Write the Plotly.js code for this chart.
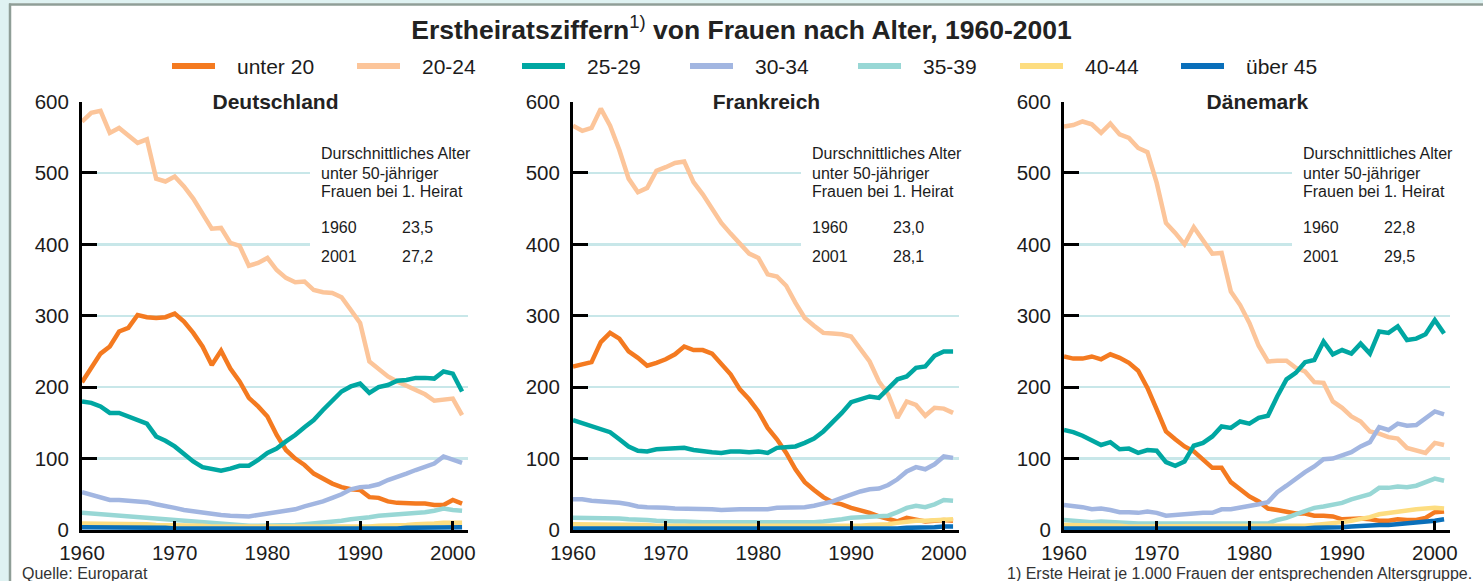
<!DOCTYPE html>
<html>
<head>
<meta charset="utf-8">
<script src="https://cdn.plot.ly/plotly-3.0.1.min.js"></script>
<style>
  html, body { margin: 0; padding: 0; background: #ffffff; }
  #chart { width: 1483px; height: 581px; }
</style>
</head>
<body>
<div id="chart"></div>
<script>
// ---------- DATA ----------
const years = [1960,1961,1962,1963,1964,1965,1966,1967,1968,1969,
               1970,1971,1972,1973,1974,1975,1976,1977,1978,1979,
               1980,1981,1982,1983,1984,1985,1986,1987,1988,1989,
               1990,1991,1992,1993,1994,1995,1996,1997,1998,1999,
               2000,2001];

const ageGroups = ["unter 20", "20-24", "25-29", "30-34", "35-39", "40-44", "über 45"];
const countries = ["Deutschland", "Frankreich", "Dänemark"];

// Deutschland
const de_u20  = [207,228,247,257,278,283,301,298,297,298,303,292,276,257,231,251,226,208,185,173,159,133,112,100,91,79,72,65,60,57,56,46,45,40,38,37,37,37,35,35,42,37];
const de_2024 = [572,584,587,556,563,552,542,547,492,488,495,481,464,443,422,423,402,398,370,374,381,364,353,347,348,336,333,332,326,308,290,236,226,215,208,202,196,190,181,182,184,161];
const de_2529 = [180,178,173,164,164,159,154,149,131,125,117,106,96,88,85,83,86,90,90,98,108,114,124,133,144,154,168,181,194,201,205,192,200,203,209,210,213,213,212,222,219,194];
const de_3034 = [53,49,46,42,42,41,40,39,36,34,31,28,26,24,22,21,20,20,19,21,23,25,27,29,33,36,40,45,50,57,60,61,64,70,74,79,84,89,93,103,98,94];
const de_3539 = [24,23,21,20,19,18,18,17,15,15,14,13,12,10,9,8,7,7,6,6,6,6,7,7,8,9,10,11,13,15,16,18,20,21,21,22,24,25,27,30,28,27];
const de_4044 = [9,9,9,8,8,8,8,8,7,7,7,6,6,6,5,5,5,4,4,4,4,4,4,4,4,4,4,4,5,5,5,5,6,6,7,7,8,8,9,10,10,10];
const de_45   = [4,4,4,4,3,3,3,3,3,3,2,2,2,2,2,2,1,1,1,1,1,1,1,1,1,1,1,1,1,2,2,2,2,2,2,3,3,3,3,4,4,4];

// Frankreich
const fr_u20  = [229,232,235,263,276,268,250,241,230,234,239,246,257,252,252,247,232,218,197,183,166,143,127,108,85,67,56,46,39,36,31,28,24,19,16,12,17,15,12,13,14,13];
const fr_2024 = [566,559,563,590,566,532,492,473,479,503,508,514,516,487,470,449,430,415,401,387,381,358,355,342,318,297,286,276,275,274,271,254,236,208,190,157,180,175,160,171,170,164];
const fr_2529 = [154,150,146,142,137,127,117,111,110,113,114,115,115,112,110,109,108,110,110,109,110,108,115,116,117,122,128,138,150,164,179,183,187,185,197,211,215,227,229,244,250,250];
const fr_3034 = [43,43,41,40,40,38,36,33,32,32,31,30,30,29,29,29,28,29,29,29,29,29,31,31,31,32,34,37,40,45,50,54,57,58,63,71,82,88,85,92,103,101];
const fr_3539 = [17,17,16,16,16,16,15,15,14,13,12,12,12,11,11,11,11,11,10,10,10,10,10,10,10,10,11,12,13,15,17,18,18,19,20,25,31,34,32,36,42,41];
const fr_4044 = [8,8,8,8,7,7,7,7,7,6,6,6,6,6,6,5,5,5,5,5,5,5,5,5,5,5,5,5,6,6,6,6,7,7,8,10,12,13,13,14,15,15];
const fr_45   = [2,2,2,2,2,2,2,2,2,2,2,1,1,1,1,1,1,1,1,1,1,1,1,1,1,1,1,1,1,1,1,1,1,2,2,2,3,3,3,4,5,5];

// Dänemark
const dk_u20  = [243,240,240,243,239,246,241,234,223,199,169,138,127,117,110,99,87,87,67,57,47,40,30,28,25,23,23,20,20,19,15,16,16,15,13,13,15,14,14,17,25,26];
const dk_2024 = [565,567,572,568,556,569,554,549,535,529,486,430,416,400,424,406,387,388,334,315,290,258,236,237,237,227,222,207,206,180,171,159,152,138,135,130,128,115,112,108,122,119];
const dk_2529 = [140,137,132,126,119,123,113,114,108,112,111,95,90,96,118,122,131,145,143,152,149,157,160,187,211,220,235,238,264,246,252,247,261,247,278,276,285,266,268,274,294,275];
const dk_3034 = [35,34,32,29,30,28,25,25,24,26,24,20,21,23,24,24,24,29,29,31,34,36,39,53,62,72,81,89,99,100,104,109,117,123,144,140,149,146,147,157,166,162];
const dk_3539 = [14,13,12,11,12,11,10,10,9,9,9,8,8,8,8,8,8,8,8,8,8,9,9,14,17,22,26,31,33,36,38,43,46,50,59,59,61,60,62,67,72,69];
const dk_4044 = [7,7,6,6,6,6,6,5,5,5,5,5,5,5,5,5,5,5,5,5,5,5,5,5,5,6,6,7,8,9,11,13,15,18,22,24,26,27,29,30,31,30];
const dk_45   = [2,2,2,2,2,2,2,2,2,2,2,1,1,1,1,1,1,1,1,1,2,2,2,2,2,2,2,3,3,3,4,5,6,6,7,7,8,9,10,11,13,15];

// Durchschnittliches Erstheiratsalter (Text im Diagramm)
const ageYears = ["1960", "2001"];
const de_age = ["23,5", "27,2"];
const fr_age = ["23,0", "28,1"];
const dk_age = ["22,8", "29,5"];

const yTicks = [0, 100, 200, 300, 400, 500, 600];
const xTicks = [1960, 1970, 1980, 1990, 2000];

// ---------- STYLE ----------
const colors = ["#f47a20", "#fcc59a", "#00a7a2", "#a2b6e1", "#98d7d5", "#fddd80", "#0a6fba"];
const FONT = "Liberation Sans, Arial, Helvetica, sans-serif";
const TXT = "#1c1c1c";
const GRID = "#c8e7e9";

const seriesByCountry = [
  [de_u20, de_2024, de_2529, de_3034, de_3539, de_4044, de_45],
  [fr_u20, fr_2024, fr_2529, fr_3034, fr_3539, fr_4044, fr_45],
  [dk_u20, dk_2024, dk_2529, dk_3034, dk_3539, dk_4044, dk_45]
];
const agesByCountry = [de_age, fr_age, dk_age];

const W = 1483, H = 581;
const panelLeftPx = [82, 573, 1064];
const panelWidthPx = 386;
const yBottomPx = 530, yTopPx = 101.5;
const pxPerYear = 9.27;
const titleWidths = [155, 131, 125];
// legend layout (pixels): sample line start, sample line end, label start
const legLineX0 = [172, 357, 522, 690, 858, 1020, 1181];
const legLineLen = 43, legTextGap = 20, legY = 66;

const traces = [];
seriesByCountry.forEach((group, ci) => {
  group.forEach((vals, gi) => {
    traces.push({
      x: years, y: vals,
      xaxis: ci === 0 ? "x" : "x" + (ci + 1),
      yaxis: ci === 0 ? "y" : "y" + (ci + 1),
      type: "scatter", mode: "lines",
      name: ageGroups[gi],
      legendgroup: ageGroups[gi],
      showlegend: false,
      line: { color: colors[gi], width: 4.5 },
      hoverinfo: "skip"
    });
  });
});

const layout = {
  width: W, height: H,
  margin: { l: 0, r: 0, t: 0, b: 0 },
  paper_bgcolor: "#ffffff",
  plot_bgcolor: "rgba(0,0,0,0)",
  font: { family: FONT, color: TXT, size: 20 },
  title: {
    text: "<b>Erstheiratsziffern</b><sup>1)</sup><b> von Frauen nach Alter, 1960-2001</b>",
    x: 0.5, xanchor: "center",
    y: 1 - 30 / H, yanchor: "middle",
    font: { family: FONT, size: 26.5, color: "#222222" }
  },
  showlegend: false,
  shapes: [], annotations: []
};

// frame
layout.shapes.push(
  { type: "rect", xref: "paper", yref: "paper", x0: 0, x1: 9 / W, y0: 0, y1: 1, fillcolor: "#dff2f2", line: { width: 0 }, layer: "above" },
  { type: "rect", xref: "paper", yref: "paper", x0: 0, x1: 1, y0: 1 - 3.5 / H, y1: 1, fillcolor: "#dff2f2", line: { width: 0 }, layer: "above" },
  { type: "line", xref: "paper", yref: "paper", x0: 10 / W, x1: 10 / W, y0: 0, y1: 1 - 3.5 / H, line: { color: "#8f9e97", width: 2.5 }, layer: "above" },
  { type: "line", xref: "paper", yref: "paper", x0: 9 / W, x1: 1, y0: 1 - 4.6 / H, y1: 1 - 4.6 / H, line: { color: "#8f9e97", width: 2.5 }, layer: "above" }
);

// manual legend (sample lines + labels)
ageGroups.forEach((g, gi) => {
  const yy = 1 - legY / H;
  layout.shapes.push({
    type: "line", xref: "paper", yref: "paper",
    x0: legLineX0[gi] / W, x1: (legLineX0[gi] + legLineLen) / W, y0: yy, y1: yy,
    line: { color: colors[gi], width: 6 }, layer: "above"
  });
  layout.annotations.push({
    xref: "paper", yref: "paper", x: (legLineX0[gi] + legLineLen + legTextGap) / W, y: yy,
    xanchor: "left", yanchor: "middle", text: g, showarrow: false,
    font: { family: FONT, size: 21, color: TXT }
  });
});

const yDomain = [1 - yBottomPx / H, 1 - yTopPx / H];

countries.forEach((name, ci) => {
  const sfx = ci === 0 ? "" : String(ci + 1);
  const xa = "xaxis" + sfx, ya = "yaxis" + sfx;
  const xref = "x" + sfx, yref = "y" + sfx;
  const x0 = panelLeftPx[ci] / W, x1 = (panelLeftPx[ci] + panelWidthPx) / W;
  layout[xa] = {
    domain: [x0, x1], anchor: yref,
    range: [years[0], years[0] + panelWidthPx / pxPerYear],
    tickmode: "array", tickvals: xTicks, ticktext: xTicks.map(String),
    ticks: "inside", ticklen: 9, tickwidth: 3, tickcolor: "#000",
    showline: true, linecolor: "#000", linewidth: 3,
    showgrid: false, zeroline: false,
    tickfont: { family: FONT, size: 20.5, color: TXT },
    ticklabelstandoff: 2,
    fixedrange: true
  };
  layout[ya] = {
    domain: yDomain, anchor: xref,
    range: [0, 600],
    tickmode: "array", tickvals: yTicks, ticktext: yTicks.map(String),
    ticks: "inside", ticklen: 15, tickwidth: 3, tickcolor: "#000",
    showline: true, linecolor: "#000", linewidth: 3,
    showgrid: true, gridcolor: GRID, gridwidth: 2.5,
    zeroline: false,
    tickfont: { family: FONT, size: 20.5, color: TXT },
    ticklabelstandoff: 6,
    fixedrange: true
  };

  // white box behind the info text (cuts gridlines)
  layout.shapes.push({
    type: "rect", xref: xref + " domain", yref: yref + " domain",
    x0: 228 / panelWidthPx, x1: 1.02, y0: 0.61, y1: 0.92,
    fillcolor: "#ffffff", line: { width: 0 }, layer: "above"
  });

  // panel title
  layout.annotations.push({
    xref: xref + " domain", yref: yref + " domain", x: 0.5, y: 1,
    xanchor: "center", yanchor: "middle",
    text: "<b>" + name + "</b>", showarrow: false,
    bgcolor: "#ffffff", width: titleWidths[ci], borderpad: 0,
    font: { family: FONT, size: 21, color: "#222222" }
  });

  const tx = 237 / panelWidthPx, vx = 318 / panelWidthPx;
  const dy = (py) => (yBottomPx - py) / (yBottomPx - yTopPx);
  const lines = ["Durschnittliches Alter", "unter 50-jähriger", "Frauen bei 1. Heirat"];
  const lineY = [154, 173, 192];
  lines.forEach((t, i) => layout.annotations.push({
    xref: xref + " domain", yref: yref + " domain", x: tx, y: dy(lineY[i]),
    xanchor: "left", yanchor: "middle", text: t, showarrow: false,
    font: { family: FONT, size: 16, color: TXT }
  }));
  const rowY = [227, 256];
  ageYears.forEach((yr, i) => {
    layout.annotations.push({
      xref: xref + " domain", yref: yref + " domain", x: tx, y: dy(rowY[i]),
      xanchor: "left", yanchor: "middle", text: yr, showarrow: false,
      font: { family: FONT, size: 16, color: TXT }
    });
    layout.annotations.push({
      xref: xref + " domain", yref: yref + " domain", x: vx, y: dy(rowY[i]),
      xanchor: "left", yanchor: "middle", text: agesByCountry[ci][i], showarrow: false,
      font: { family: FONT, size: 16, color: TXT }
    });
  });
});

// footers
layout.annotations.push(
  { xref: "paper", yref: "paper", x: 20 / W, y: (H - 573) / H, xanchor: "left", yanchor: "middle",
    text: "Quelle: Europarat", showarrow: false, font: { family: FONT, size: 16, color: "#333333" } },
  { xref: "paper", yref: "paper", x: 1474 / W, y: (H - 573) / H, xanchor: "right", yanchor: "middle",
    text: "1) Erste Heirat je 1.000 Frauen der entsprechenden Altersgruppe.", showarrow: false,
    font: { family: FONT, size: 16, color: "#333333" } }
);

Plotly.newPlot("chart", traces, layout, { displayModeBar: false, staticPlot: true });
</script>
</body>
</html>
